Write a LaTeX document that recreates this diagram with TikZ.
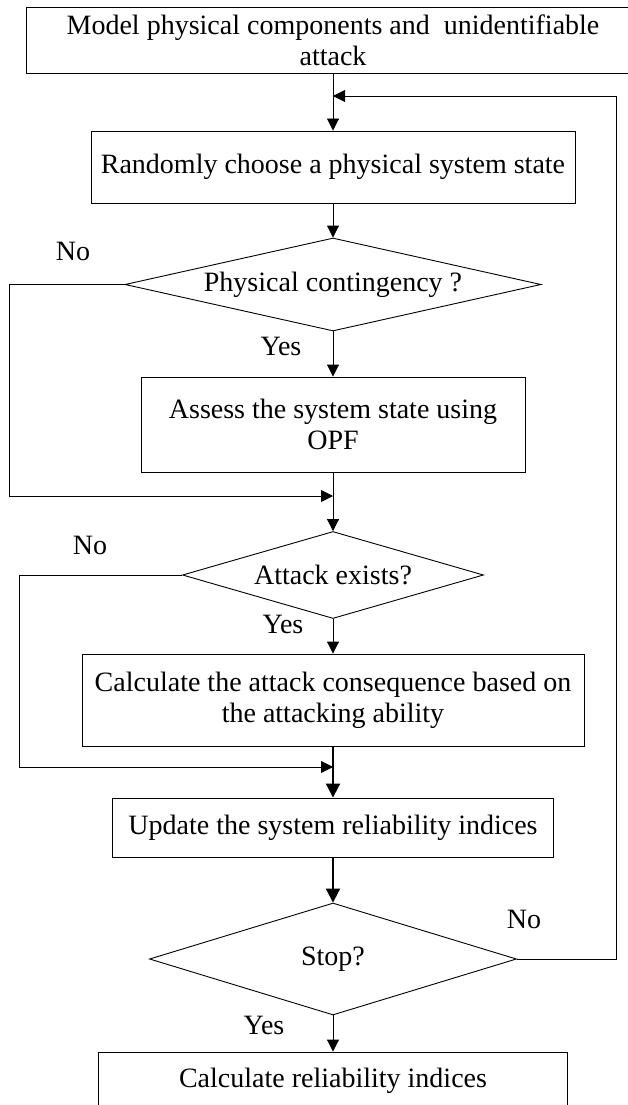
\documentclass[tikz,border=0pt]{standalone}
\usepackage{fontspec}
\setmainfont{Liberation Serif}
\usetikzlibrary{arrows.meta}
\usetikzlibrary{shapes.geometric}

\begin{document}
\begin{tikzpicture}[x=1pt,y=-1pt,
        every node/.style={font=\fontsize{28}{31}\selectfont},
        box/.style={draw,line width=0.9pt,rectangle,align=center,inner sep=0pt},
        decision/.style={draw,line width=0.9pt,diamond,inner sep=0pt,aspect=4},
        flow/.style={line width=0.9pt,-{Triangle[length=12pt,width=12pt]}},
        thickflow/.style={line width=2pt,-{Triangle[length=14pt,width=14pt]}}]
                    \useasboundingbox (0,0) rectangle (628,1105);

                    \node[box,minimum width=614pt,minimum height=66pt] (model) at (333,40) {Model physical components and~ unidentifiable\\attack};
                    \node[box,minimum width=484pt,minimum height=72pt] (rand) at (333,167) {Randomly choose a physical system state};
                    \node[decision,minimum width=416pt,minimum height=93pt] (phys) at (333,284.5) {Physical contingency ?};
                    \node[box,minimum width=384pt,minimum height=95pt] (assess) at (333,424.5) {Assess the system state using\\OPF};
                    \node[decision,minimum width=301pt,minimum height=87pt] (attack) at (333,575) {Attack exists?};
                    \node[box,minimum width=502pt,minimum height=92pt] (calc) at (333,700) {Calculate the attack consequence based on\\the attacking ability};
                    \node[box,minimum width=441pt,minimum height=59pt] (update) at (333,827.5) {Update the system reliability indices};
                    \node[decision,minimum width=367pt,minimum height=112pt] (stop) at (333,959) {Stop?};
                    \node[box,minimum width=469pt,minimum height=58pt] (final) at (333,1081) {Calculate reliability indices};

                    \coordinate (loopin) at (333,96);
                    \coordinate (join1) at (333,496);
                    \coordinate (join2) at (333,767);

                    \node (no1) at (73,251) {No};
                    \node (yes1) at (281,346) {Yes};
                    \node (no2) at (90,545) {No};
                    \node (yes2) at (283,624) {Yes};
                    \node (no3) at (524,919) {No};
                    \node (yes3) at (264,1025) {Yes};

                    \draw[flow] (model) -- (rand);
                    \draw[flow] (stop.east) -- ++(99,0) |- (loopin);
                    \draw[flow] (rand) -- (phys);
                    \draw[flow] (phys) -- (assess);
                    \draw[flow] (phys.west) -- ++(-115,0) |- (join1);
                    \draw[flow] (assess) -- (attack);
                    \draw[flow] (attack.west) -- ++(-163,0) |- (join2);
                    \draw[flow] (attack) -- (calc);
                    \draw[thickflow] (calc) -- (update);
                    \draw[thickflow] (update) -- (stop);
                    \draw[flow] (stop) -- (final);
                \end{tikzpicture}
\end{document}
